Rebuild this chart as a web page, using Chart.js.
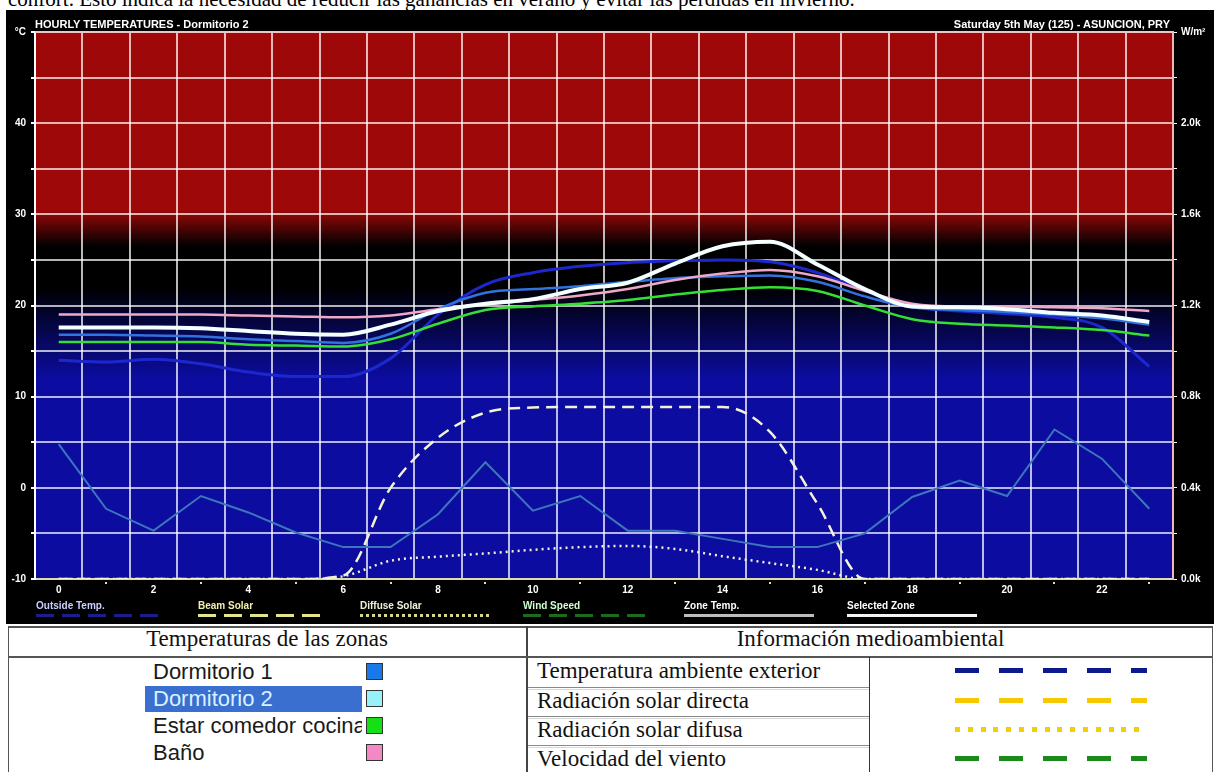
<!DOCTYPE html>
<html>
<head>
<meta charset="utf-8">
<script src="https://cdn.jsdelivr.net/npm/chart.js@4.4.1/dist/chart.umd.min.js"></script>
<style>
  body { margin: 0; width: 1218px; height: 772px; background: #fff; position: relative; overflow: hidden; }
  #topline { position: absolute; left: 8px; top: -11px; font: 21px/21px "Liberation Serif", serif; color: #000; white-space: nowrap; }
  #plotbox { position: absolute; left: 6px; top: 10px; width: 1208px; height: 614px; background: #000; }
  #plotbox canvas { position: absolute; left: 0; top: 0; }
  .ttl { position: absolute; top: 8px; font: bold 11px/12px "Liberation Sans", Arial, sans-serif; color: #fff; white-space: nowrap; }
  .lg { position: absolute; top: 590px; font: bold 10px/12px "Liberation Sans", Arial, sans-serif; white-space: nowrap; }
  .lgline { position: absolute; top: 604px; width: 130px; height: 3px; }
  .abs { position: absolute; }
  .hdr { position: absolute; top: 626px; height: 31px; line-height: 31px; text-align: center; font: 23px "Liberation Serif", serif; color: #111; }
  .row { position: absolute; left: 537px; height: 29px; line-height: 29px; font: 23px "Liberation Serif", serif; color: #111; white-space: nowrap; }
  .sep { position: absolute; left: 528px; width: 341px; height: 1px; border-top: 1px solid #8a8a8a; border-bottom: 1px solid #d8d8d8; }
  .zone { position: absolute; left: 145px; width: 217px; height: 26px; line-height: 26px; padding-left: 8px; box-sizing: border-box; font: 22px "Liberation Sans", Arial, sans-serif; color: #1a1a1a; white-space: nowrap; overflow: hidden; }
  .sq { position: absolute; left: 366px; width: 15px; height: 15px; border: 1px solid #333; }
  .smp { position: absolute; left: 955px; width: 192px; height: 5px; }
</style>
</head>
<body>
<div id="topline">confort. Esto indica la necesidad de reducir las ganancias en verano y evitar las pérdidas en invierno.</div>

<div id="plotbox">
  <canvas id="chart" width="1208" height="614"></canvas>
  <div class="ttl" style="left:29px">HOURLY TEMPERATURES - Dormitorio 2</div>
  <div class="ttl" style="right:44px">Saturday 5th May (125) - ASUNCION, PRY</div>

  <div class="lg" style="left:30px;color:#c8d0ff">Outside Temp.</div>
  <div class="lgline" style="left:30px;background:repeating-linear-gradient(to right,#1c1c8c 0 18px,transparent 18px 26px)"></div>
  <div class="lg" style="left:192px;color:#f0f0a8">Beam Solar</div>
  <div class="lgline" style="left:192px;background:repeating-linear-gradient(to right,#e4e48c 0 18px,transparent 18px 26px)"></div>
  <div class="lg" style="left:354px;color:#f0f0d8">Diffuse Solar</div>
  <div class="lgline" style="left:354px;background:repeating-linear-gradient(to right,#d8d88c 0 3px,transparent 3px 6px)"></div>
  <div class="lg" style="left:517px;color:#d0ffd0">Wind Speed</div>
  <div class="lgline" style="left:517px;background:repeating-linear-gradient(to right,#1c6c1c 0 18px,transparent 18px 26px)"></div>
  <div class="lg" style="left:678px;color:#fff">Zone Temp.</div>
  <div class="lgline" style="left:678px;background:#bdbdbd"></div>
  <div class="lg" style="left:841px;color:#fff">Selected Zone</div>
  <div class="lgline" style="left:841px;background:#f4f4f4"></div>
</div>

<!-- table under the chart -->
<div class="abs" style="left:8px;top:626px;width:1205px;height:2px;background:#555"></div>
<div class="abs" style="left:8px;top:626px;width:1px;height:146px;background:#555"></div>
<div class="abs" style="left:1212px;top:626px;width:1px;height:146px;background:#555"></div>
<div class="abs" style="left:526px;top:626px;width:2px;height:146px;background:#444"></div>
<div class="abs" style="left:8px;top:656px;width:1205px;height:2px;background:#555"></div>
<div class="abs" style="left:869px;top:657px;width:1px;height:115px;background:#333"></div>
<div class="hdr" style="left:8px;width:518px">Temperaturas de las zonas</div>
<div class="hdr" style="left:528px;width:685px">Información medioambiental</div>

<div class="row" style="top:658px">Temperatura ambiente exterior</div>
<div class="sep" style="top:687px"></div>
<div class="row" style="top:688px">Radiación solar directa</div>
<div class="sep" style="top:716px"></div>
<div class="row" style="top:717px">Radiación solar difusa</div>
<div class="sep" style="top:745px"></div>
<div class="row" style="top:746px">Velocidad del viento</div>

<div class="smp" style="top:668px;background:repeating-linear-gradient(to right,#0c1a8c 0 24px,transparent 24px 44px)"></div>
<div class="smp" style="top:698px;background:repeating-linear-gradient(to right,#f5c800 0 24px,transparent 24px 44px)"></div>
<div class="smp" style="top:727px;background:repeating-linear-gradient(to right,#f2d000 0 5px,transparent 5px 12.8px)"></div>
<div class="smp" style="top:756px;background:repeating-linear-gradient(to right,#1a8a1a 0 24px,transparent 24px 44px)"></div>

<div class="zone" style="top:659px">Dormitorio 1</div>
<div class="sq" style="top:663px;background:#1a78e8"></div>
<div class="zone" style="top:686px;background:#3a6fd0;color:#d8f2ff">Dormitorio 2</div>
<div class="sq" style="top:690px;background:#98f0f8"></div>
<div class="zone" style="top:713px">Estar comedor cocina</div>
<div class="sq" style="top:717px;background:#14e014"></div>
<div class="zone" style="top:740px">Baño</div>
<div class="sq" style="top:744px;background:#f488c4"></div>

<script>
// hours of the day
const hours = ['0', '1', '2', '3', '4', '5', '6', '7', '8', '9', '10', '11',
    '12', '13', '14', '15', '16', '17', '18', '19', '20', '21', '22', '23'];

// temperatures, °C
const dormitorio2 = [17.6, 17.6, 17.6, 17.5, 17.2, 16.9, 16.8, 17.9, 19.4, 20.2, 20.7, 21.8,
    22.5, 24.6, 26.5, 27.0, 24.5, 21.8, 19.9, 19.8, 19.6, 19.2, 18.9, 18.2];
const dormitorio1 = [16.8, 16.8, 16.7, 16.6, 16.3, 16.1, 15.9, 16.9, 19.6, 21.4, 21.8, 22.1,
    22.6, 23.0, 23.2, 23.3, 22.6, 21.0, 19.8, 19.5, 19.3, 19.0, 18.6, 17.9];
const estarComedor = [16.0, 16.0, 16.0, 16.0, 15.7, 15.6, 15.5, 16.3, 18.0, 19.5, 19.9, 20.2,
    20.6, 21.2, 21.7, 22.0, 21.6, 20.0, 18.5, 18.0, 17.8, 17.6, 17.3, 16.7];
const bano = [19.0, 19.0, 19.0, 19.0, 18.9, 18.8, 18.7, 18.9, 19.6, 20.1, 20.6, 21.1,
    21.8, 22.8, 23.5, 23.9, 23.2, 21.6, 20.2, 19.9, 19.9, 19.8, 19.7, 19.4];
const outsideTemp = [14.0, 13.8, 14.1, 13.6, 12.7, 12.2, 12.2, 14.2, 19.0, 22.3, 23.6, 24.3,
    24.7, 24.9, 25.0, 24.8, 23.6, 21.6, 19.9, 19.4, 19.1, 18.7, 17.6, 13.3];
const windSpeed = [4.8, -2.3, -4.7, -0.9, -2.7, -4.9, -6.5, -6.5, -2.9, 2.8, -2.5, -0.9,
    -4.7, -4.7, -5.6, -6.5, -6.5, -5.0, -1.0, 0.8, -0.9, 6.4, 3.2, -2.3];

// solar radiation, W/m²
const beamSolar = [0, 0, 0, 0, 0, 0, 15, 400, 620, 730, 752, 755,
    755, 755, 755, 645, 330, 0, 0, 0, 0, 0, 0, 0];
const diffuseSolar = [0, 0, 0, 0, 0, 0, 12, 80, 98, 112, 128, 140,
    145, 132, 100, 70, 40, 0, 0, 0, 0, 0, 0, 0];

// axis ranges / labels
const tempMin = -10, tempMax = 50, tempStep = 5;
const solarMin = 0, solarMax = 2400, solarStep = 200;

Chart.defaults.font.family = '"Liberation Sans", Arial, sans-serif';

// red / black / blue band behind the plot, plus top edge and hour marks
const backdrop = {
    id: 'backdrop',
    beforeDraw(chart) {
        const { ctx, chartArea: a, scales: { y } } = chart;
        const top = y.getPixelForValue(tempMax), bot = y.getPixelForValue(tempMin);
        const at = v => (tempMax - v) / (tempMax - tempMin);
        const g = ctx.createLinearGradient(0, top, 0, bot);
        g.addColorStop(0, 'rgb(158,8,8)');
        g.addColorStop(at(30.5), 'rgb(158,8,8)');
        g.addColorStop(at(26.5), 'rgb(0,0,0)');
        g.addColorStop(at(22), 'rgb(0,0,0)');
        g.addColorStop(at(12), 'rgb(12,12,160)');
        g.addColorStop(1, 'rgb(12,12,160)');
        ctx.save();
        ctx.fillStyle = g;
        ctx.fillRect(a.left, a.top, a.width, a.height);
        ctx.restore();
    },
    afterDraw(chart) {
        const { ctx, chartArea: a, scales: { x } } = chart;
        ctx.save();
        ctx.strokeStyle = '#f2c4c4';
        ctx.lineWidth = 2;
        ctx.beginPath();
        ctx.moveTo(a.left, a.top);
        ctx.lineTo(a.right, a.top);
        ctx.stroke();
        ctx.fillStyle = '#e0e0a0';
        hours.forEach((h, i) => {
            if (i % 2 === 1) ctx.fillRect(Math.round(x.getPixelForValue(i)) - 1, a.bottom + 3, 2, 2);
        });
        ctx.restore();
    }
};

const line = (label, data, color, width, extra) => Object.assign({
    label, data, borderColor: color, borderWidth: width,
    pointRadius: 0, fill: false, yAxisID: 'y',
    cubicInterpolationMode: 'monotone'
}, extra || {});

new Chart(document.getElementById('chart'), {
    type: 'line',
    data: {
        labels: hours,
        datasets: [
            line('Dormitorio 2', dormitorio2, '#f4ffff', 4, { order: 0 }),
            line('Baño', bano, '#f0a8c8', 2.5, { order: 1 }),
            line('Estar comedor cocina', estarComedor, '#34e034', 2.5, { order: 2 }),
            line('Dormitorio 1', dormitorio1, '#3272e0', 2.5, { order: 3 }),
            line('Outside Temp.', outsideTemp, 'rgb(28,40,205)', 3, { order: 4 }),
            line('Beam Solar', beamSolar, '#f2f2d6', 2.5, { order: 5, yAxisID: 'y2', borderDash: [12, 7] }),
            line('Diffuse Solar', diffuseSolar, '#f2f2d6', 2.5, { order: 6, yAxisID: 'y2', borderDash: [2, 4] }),
            line('Wind Speed', windSpeed, 'rgb(62,118,188)', 2, { order: 7, cubicInterpolationMode: 'default', tension: 0 })
        ]
    },
    options: {
        responsive: false,
        animation: false,
        layout: { padding: { top: 22, left: 0, right: 0, bottom: 0 } },
        plugins: { legend: { display: false }, tooltip: { enabled: false } },
        scales: {
            x: {
                type: 'category',
                offset: true,
                afterFit: s => { s.height = 45; },
                grid: { offset: true, color: 'rgba(255,255,255,0.72)', lineWidth: 2, drawTicks: false },
                border: { color: '#dcdcb0', width: 2 },
                ticks: {
                    autoSkip: false, maxRotation: 0, padding: 5, color: '#fff',
                    font: { size: 10, weight: 'bold' },
                    callback: (v, i) => (i % 2 === 0 ? hours[i] : '')
                }
            },
            y: {
                position: 'left',
                min: tempMin, max: tempMax,
                afterFit: s => { s.width = 29; },
                grid: {
                    color: c => (c.tick.value === tempMin || c.tick.value === tempMax) ? 'rgba(0,0,0,0)' : 'rgba(255,255,255,0.7)',
                    lineWidth: 2, borderDash: [2, 4], tickLength: 4, tickColor: '#fff', tickBorderDash: []
                },
                border: { color: '#fff', width: 2 },
                ticks: {
                    stepSize: tempStep, padding: 5, color: '#fff',
                    font: { size: 10, weight: 'bold' },
                    callback: v => (v === tempMax ? '°C' : (v % 10 === 0 ? String(v) : ''))
                }
            },
            y2: {
                position: 'right',
                min: solarMin, max: solarMax,
                afterFit: s => { s.width = 41; },
                grid: { drawOnChartArea: false, tickLength: 4, tickColor: '#fff', color: '#fff' },
                border: { color: '#f0b8b8', width: 2 },
                ticks: {
                    stepSize: solarStep, padding: 4, color: '#fff',
                    font: { size: 10, weight: 'bold' },
                    callback: v => (v === solarMax ? 'W/m²' : (v % 400 === 0 ? (v / 1000).toFixed(1) + 'k' : ''))
                }
            }
        }
    },
    plugins: [backdrop]
});
</script>
</body>
</html>
